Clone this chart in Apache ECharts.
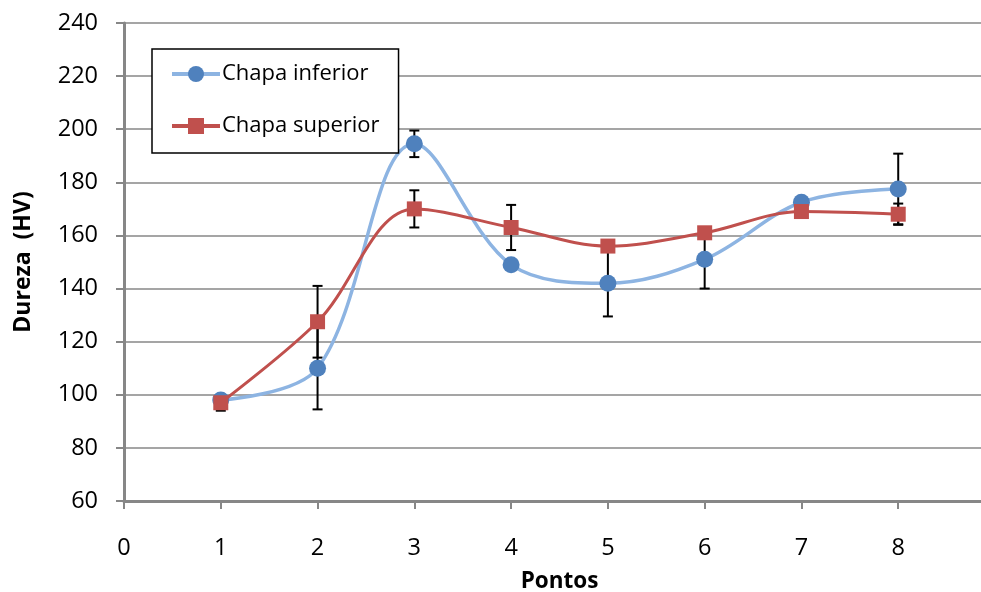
<!DOCTYPE html>
<html>
<head>
<meta charset="utf-8">
<script src="https://cdn.jsdelivr.net/npm/echarts@6/dist/echarts.min.js"></script>
<style>
  html, body { margin: 0; padding: 0; background: #fff; }
  #chart { width: 981px; height: 592px; }
</style>
</head>
<body>
<div id="chart"></div>
<script>
// Hardness profile (HV) along the measurement points
const pontos = [1, 2, 3, 4, 5, 6, 7, 8];
const chapaInferior = [98, 110, 194.5, 149, 142, 151, 172.5, 177.5];
const erroInferior = [1, 15.5, 5, 1.5, 12.5, 11, 1.5, 13.3];
const chapaSuperior = [97, 127.5, 170, 163, 156, 161, 169, 168];
const erroSuperior = [3, 13.5, 7, 8.5, 1, 1, 1.5, 4];
const yTicks = { min: 60, max: 240, step: 20 };
const xTicks = { min: 0, max: 9, step: 1 };

const FONT = '"Open Sans", "Liberation Sans", sans-serif';

function pairs(xs, ys) {
  return xs.map((x, i) => [x, ys[i]]);
}
function errorData(xs, ys, es) {
  return xs.map((x, i) => [x, ys[i] - es[i], ys[i] + es[i]]);
}

// Vertical error bar with caps
function renderErrorBar(params, api) {
  const x = api.value(0);
  const lo = api.coord([x, api.value(1)]);
  const hi = api.coord([x, api.value(2)]);
  const cap = 5;
  const style = { stroke: '#000', lineWidth: 2 };
  return {
    type: 'group',
    children: [
      { type: 'line', shape: { x1: lo[0], y1: lo[1], x2: hi[0], y2: hi[1] }, style },
      { type: 'line', shape: { x1: lo[0] - cap, y1: lo[1], x2: lo[0] + cap, y2: lo[1] }, style },
      { type: 'line', shape: { x1: hi[0] - cap, y1: hi[1], x2: hi[0] + cap, y2: hi[1] }, style }
    ]
  };
}

const chart = echarts.init(document.getElementById('chart'), null, { renderer: 'canvas' });

chart.setOption({
  animation: false,
  backgroundColor: '#fff',
  grid: {
    left: 124, right: -14, top: 23, bottom: 91,
    containLabel: false,
    outerBoundsMode: 'none',
    show: true, borderColor: '#000', borderWidth: 1.5, backgroundColor: 'transparent'
  },
  legend: {
    left: 152, top: 49,
    orient: 'vertical',
    backgroundColor: '#fff',
    borderColor: '#000',
    borderWidth: 1.5,
    borderRadius: 0,
    padding: [13, 19, 15, 18],
    itemWidth: 48,
    itemHeight: 20,
    itemGap: 28,
    lineStyle: { width: 4 },
    textStyle: { fontFamily: FONT, fontSize: 22, color: '#000', lineHeight: 24, padding: [0, 0, 0, -3] },
    data: ['Chapa inferior', 'Chapa superior']
  },
  xAxis: {
    type: 'value',
    min: xTicks.min, max: xTicks.max, interval: xTicks.step,
    name: 'Pontos',
    nameLocation: 'middle',
    nameGap: 69,
    nameTextStyle: { fontFamily: FONT, fontSize: 22.5, fontWeight: 'bold', color: '#000' },
    axisLine: { show: true, onZero: false, lineStyle: { color: '#878787', width: 3 } },
    axisTick: { show: true, length: 8, lineStyle: { color: '#878787', width: 2 } },
    axisLabel: { margin: 35, fontFamily: FONT, fontSize: 23.5, color: '#000' },
    splitLine: { show: false }
  },
  yAxis: {
    type: 'value',
    min: yTicks.min, max: yTicks.max, interval: yTicks.step,
    name: 'Dureza  (HV)',
    nameLocation: 'middle',
    nameRotate: 90,
    nameGap: 89,
    nameTextStyle: { fontFamily: FONT, fontSize: 23, fontWeight: 'bold', color: '#000' },
    axisLine: { show: true, lineStyle: { color: '#878787', width: 3 } },
    axisTick: { show: true, length: 8, lineStyle: { color: '#878787', width: 2 } },
    axisLabel: { margin: 26, fontFamily: FONT, fontSize: 23.5, color: '#000' },
    splitLine: { show: true, lineStyle: { color: '#A5A5A5', width: 2 } }
  },
  series: [
    {
      name: 'erro inferior',
      type: 'custom',
      z: 1,
      renderItem: renderErrorBar,
      encode: { x: 0, y: [1, 2] },
      data: errorData(pontos, chapaInferior, erroInferior),
      silent: true
    },
    {
      name: 'erro superior',
      type: 'custom',
      z: 1,
      renderItem: renderErrorBar,
      encode: { x: 0, y: [1, 2] },
      data: errorData(pontos, chapaSuperior, erroSuperior),
      silent: true
    },
    {
      name: 'Chapa inferior',
      type: 'line',
      z: 3,
      smooth: 0.35,
      data: pairs(pontos, chapaInferior),
      symbol: 'circle',
      symbolSize: 17,
      lineStyle: { color: '#8DB4E2', width: 3.5 },
      itemStyle: { color: '#4F81BD' }
    },
    {
      name: 'Chapa superior',
      type: 'line',
      z: 4,
      smooth: 0.35,
      data: pairs(pontos, chapaSuperior),
      symbol: 'rect',
      symbolSize: 15,
      lineStyle: { color: '#C0504D', width: 3 },
      itemStyle: { color: '#C0504D' }
    }
  ]
});
</script>
</body>
</html>
